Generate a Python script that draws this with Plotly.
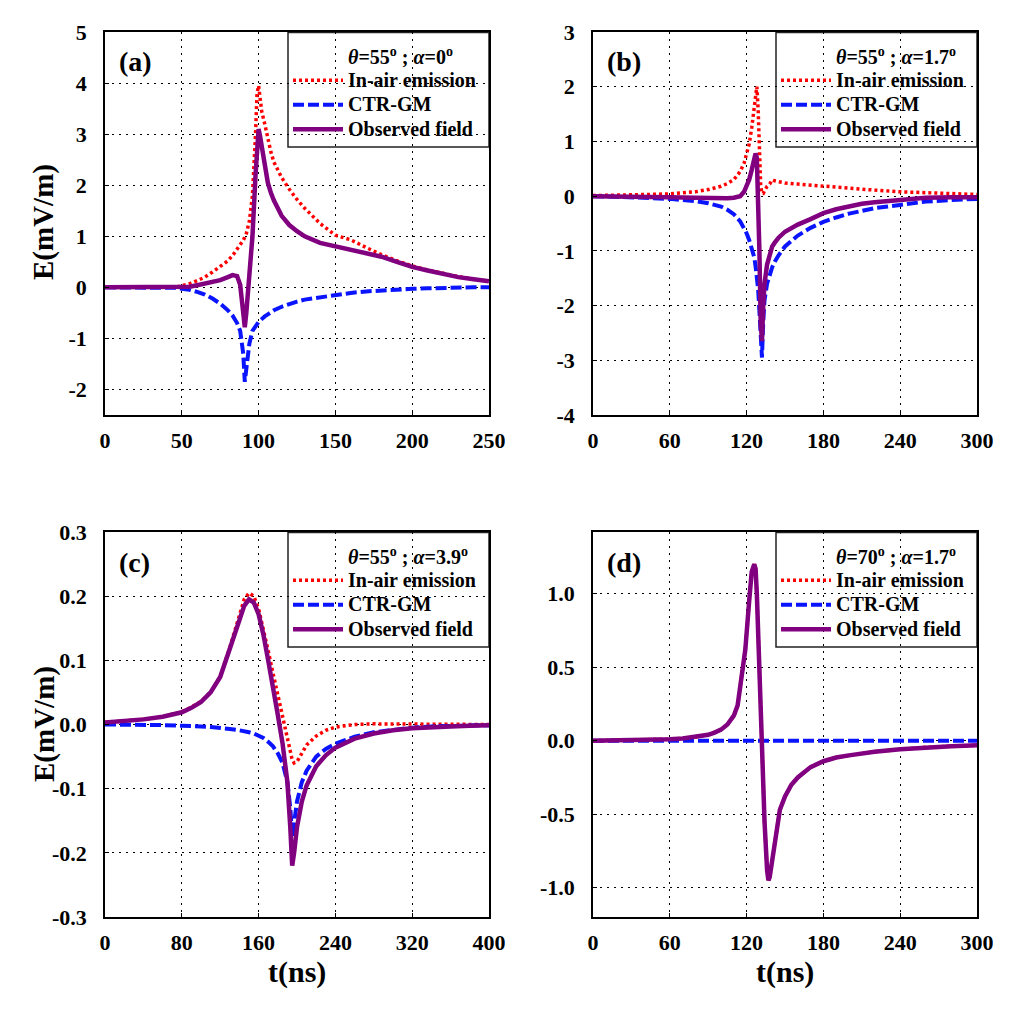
import plotly.graph_objects as go

# ---------------- data ----------------
# Panel (a)
t_a = [0, 20, 40, 45, 50, 55, 60, 65, 70, 75, 80, 83, 86, 88, 90, 91, 92, 94, 96, 98, 99, 100,
       101, 102, 104, 106, 108, 110, 115, 120, 125, 130, 140, 150, 160, 170, 180, 190, 200,
       210, 220, 230, 240, 250]
air_a = [0, 0, 0, 0.005, 0.03, 0.07, 0.13, 0.2, 0.3, 0.4, 0.52, 0.62, 0.74, 0.82, 0.92, 0.98,
         1.05, 1.3, 1.8, 3.0, 3.8, 3.95, 3.7, 3.45, 3.2, 2.9, 2.65, 2.45, 2.15, 1.92, 1.72,
         1.55, 1.25, 1.02, 0.93, 0.78, 0.64, 0.52, 0.42, 0.34, 0.27, 0.21, 0.16, 0.12]
ctr_a = [0, 0, -0.005, -0.01, -0.03, -0.05, -0.09, -0.14, -0.22, -0.32, -0.45, -0.55, -0.7,
         -0.85, -1.3, -1.85, -1.6, -1.1, -0.85, -0.75, -0.71, -0.68, -0.65, -0.62, -0.57,
         -0.53, -0.49, -0.45, -0.38, -0.32, -0.28, -0.24, -0.19, -0.15, -0.11, -0.08, -0.06,
         -0.04, -0.03, -0.02, -0.01, -0.005, 0, 0]
obs_a = [0, 0, 0, -0.005, -0.01, 0.01, 0.04, 0.07, 0.1, 0.14, 0.2, 0.24, 0.22, 0.05, -0.5,
         -0.78, -0.5, 0.2, 1.0, 2.2, 2.9, 3.1, 2.95, 2.75, 2.35, 2.05, 1.85, 1.7, 1.4, 1.22,
         1.1, 1.0, 0.87, 0.8, 0.75, 0.68, 0.6, 0.5, 0.4, 0.33, 0.26, 0.2, 0.16, 0.12]

# Panel (b)
t_b = [0, 20, 40, 60, 80, 90, 100, 105, 110, 115, 118, 120, 122, 124, 126, 127, 128, 129, 130,
       131, 132, 133, 134, 136, 138, 140, 142, 145, 150, 160, 170, 180, 190, 200, 210, 220,
       240, 260, 280, 300]
air_b = [0.01, 0.015, 0.025, 0.04, 0.08, 0.12, 0.18, 0.23, 0.3, 0.45, 0.6, 0.75, 0.95, 1.25,
         1.7, 1.9, 2.0, 1.6, 0.8, 0.2, 0.05, 0.05, 0.1, 0.18, 0.22, 0.3, 0.28, 0.26, 0.24,
         0.22, 0.2, 0.19, 0.17, 0.15, 0.13, 0.11, 0.08, 0.06, 0.04, 0.03]
ctr_b = [0, -0.01, -0.03, -0.05, -0.09, -0.13, -0.19, -0.25, -0.33, -0.46, -0.58, -0.68, -0.8,
         -0.95, -1.12, -1.28, -1.45, -1.7, -2.1, -2.7, -2.95, -2.3, -1.9, -1.6, -1.42, -1.3,
         -1.2, -1.08, -0.92, -0.72, -0.58, -0.47, -0.39, -0.32, -0.27, -0.22, -0.16, -0.1,
         -0.07, -0.05]
obs_b = [0, 0, -0.01, -0.02, -0.03, -0.04, -0.04, -0.04, -0.03, 0.0, 0.08, 0.18, 0.3, 0.48,
         0.72, 0.78, 0.7, 0.1, -1.0, -2.3, -2.65, -2.0, -1.6, -1.25, -1.05, -0.92, -0.85,
         -0.76, -0.65, -0.52, -0.42, -0.31, -0.24, -0.18, -0.14, -0.11, -0.06, -0.03, -0.02,
         -0.02]

# Panel (c)
t_c = [0, 20, 40, 60, 80, 90, 100, 110, 120, 130, 140, 145, 150, 155, 160, 165, 170, 175, 180,
       185, 190, 193, 195, 197, 200, 205, 210, 220, 230, 240, 260, 280, 300, 320, 340, 360,
       380, 400]
air_c = [0.003, 0.005, 0.008, 0.012, 0.02, 0.027, 0.036, 0.05, 0.075, 0.12, 0.17, 0.195,
         0.205, 0.2, 0.18, 0.15, 0.115, 0.08, 0.045, 0.01, -0.025, -0.045, -0.055, -0.06,
         -0.058, -0.045, -0.032, -0.018, -0.009, -0.004, 0.0, 0.001, 0.001, 0.0, 0.0, 0.0,
         0.0, 0.0]
ctr_c = [0, 0, -0.001, -0.001, -0.002, -0.002, -0.003, -0.004, -0.005, -0.007, -0.009, -0.01,
         -0.012, -0.014, -0.017, -0.021, -0.027, -0.034, -0.045, -0.06, -0.09, -0.13, -0.175,
         -0.15, -0.12, -0.09, -0.072, -0.05, -0.038, -0.03, -0.019, -0.012, -0.008, -0.005,
         -0.003, -0.002, -0.001, -0.001]
obs_c = [0.003, 0.005, 0.008, 0.012, 0.019, 0.026, 0.035, 0.05, 0.074, 0.118, 0.165, 0.185,
         0.195, 0.19, 0.172, 0.14, 0.1, 0.06, 0.015, -0.03, -0.09, -0.16, -0.22, -0.2, -0.16,
         -0.12, -0.095, -0.065, -0.048, -0.036, -0.022, -0.014, -0.009, -0.006, -0.004,
         -0.003, -0.002, -0.001]

# Panel (d)
t_d = [0, 20, 40, 60, 70, 80, 90, 95, 100, 105, 110, 113, 116, 119, 122, 124, 126, 127, 128,
       130, 132, 134, 136, 137, 138, 140, 143, 146, 150, 155, 160, 170, 180, 190, 200, 220,
       240, 260, 280, 300]
obs_d = [0.0, 0.002, 0.005, 0.01, 0.015, 0.024, 0.04, 0.055, 0.075, 0.11, 0.17, 0.24, 0.42,
         0.62, 0.95, 1.15, 1.2, 1.17, 1.0, 0.45, -0.1, -0.55, -0.88, -0.95, -0.93, -0.82,
         -0.62, -0.47, -0.38, -0.3, -0.25, -0.18, -0.14, -0.115, -0.1, -0.075, -0.058, -0.045,
         -0.038, -0.032]
air_d = list(obs_d)
ctr_d = [0.0] * len(t_d)

# axis ticks
xt_a = [0, 50, 100, 150, 200, 250]
yt_a = [5, 4, 3, 2, 1, 0, -1, -2]
xt_b = [0, 60, 120, 180, 240, 300]
yt_b = [3, 2, 1, 0, -1, -2, -3, -4]
xt_c = [0, 80, 160, 240, 320, 400]
yt_c = [0.3, 0.2, 0.1, 0.0, -0.1, -0.2, -0.3]
xt_d = [0, 60, 120, 180, 240, 300]
yt_d = [1.0, 0.5, 0.0, -0.5, -1.0]

series_names = ["In-air emission", "CTR-GM", "Observed field"]
panel_labels = ["(a)", "(b)", "(c)", "(d)"]
legend_titles = [
    "<i>θ</i>=55<sup>o</sup> ; <i>α</i>=0<sup>o</sup>",
    "<i>θ</i>=55<sup>o</sup> ; <i>α</i>=1.7<sup>o</sup>",
    "<i>θ</i>=55<sup>o</sup> ; <i>α</i>=3.9<sup>o</sup>",
    "<i>θ</i>=70<sup>o</sup> ; <i>α</i>=1.7<sup>o</sup>",
]

# ---------------- figure ----------------
W = H = 1009
FONT = "Liberation Serif"


def px(x):
    return x / W


def py(y):
    return 1 - y / H


def fmt_tick(v, dec):
    return f"{v:.{dec}f}"


panels = [
    (t_a, air_a, ctr_a, obs_a, xt_a, yt_a, [0, 250], [-2.5, 5], 0, (105, 489, 32, 415)),
    (t_b, air_b, ctr_b, obs_b, xt_b, yt_b, [0, 300], [-4, 3], 0, (593, 977, 32, 415)),
    (t_c, air_c, ctr_c, obs_c, xt_c, yt_c, [0, 400], [-0.3, 0.3], 1, (105, 489, 532, 917)),
    (t_d, air_d, ctr_d, obs_d, xt_d, yt_d, [0, 300], [-1.2, 1.42], 1, (593, 977, 532, 917)),
]

colors = ["#ff0000", "#0a14ff", "#800080"]
dashes = ["3px,3px", "11px,4px", "solid"]
widths = [3.5, 4, 4.5]

fig = go.Figure()
layout = dict(
    width=W, height=H,
    margin=dict(l=0, r=0, t=0, b=0, autoexpand=False),
    paper_bgcolor="white", plot_bgcolor="white",
    font=dict(family=FONT, size=20, color="black"),
    annotations=[], shapes=[],
)

for i, (t, air, ctr, obs, xt, yt, xr, yr, dec, box) in enumerate(panels):
    n = "" if i == 0 else str(i + 1)
    x0, x1, y0, y1 = box
    leg = "legend" + n
    for k, ys in enumerate([air, ctr, obs]):
        fig.add_trace(go.Scatter(
            x=t, y=ys, mode="lines",
            name='<span style="font-size:20px"><b>' + series_names[k] + "</b></span>",
            line=dict(color=colors[k], width=widths[k], dash=dashes[k]),
            xaxis="x" + n, yaxis="y" + n, legend=leg, showlegend=True,
        ))
    common = dict(
        showline=True, linecolor="black", linewidth=1.5, mirror=True,
        showgrid=True, gridcolor="black", gridwidth=1, griddash="2px,5px",
        zeroline=False, ticks="inside", ticklen=4, tickcolor="black",
        tickfont=dict(family=FONT, size=22, color="black", weight="bold"),
    )
    layout["xaxis" + n] = dict(
        common, domain=[px(x0), px(x1)], range=xr, anchor="y" + n,
        tickmode="array", tickvals=xt, ticktext=[str(v) for v in xt],
        ticklabelstandoff=5,
    )
    layout["yaxis" + n] = dict(
        common, domain=[py(y1), py(y0)], range=yr, anchor="x" + n,
        tickmode="array", tickvals=yt, ticktext=[fmt_tick(v, dec) for v in yt],
        ticklabelstandoff=12,
    )
    # legend frame
    bx0, by0 = x1 - 201, y0 + 0.5
    bx1, by1 = x1, y0 + 115
    layout["shapes"].append(dict(
        type="rect", xref="paper", yref="paper",
        x0=px(bx0), x1=px(bx1), y0=py(by1), y1=py(by0),
        line=dict(color="#222", width=1.5), fillcolor="white", layer="between",
    ))
    layout["annotations"].append(dict(
        text="<b>" + legend_titles[i] + "</b>", x=px(bx0 + 58), y=py(y0 + 24),
        xref="paper", yref="paper", xanchor="left", yanchor="middle",
        showarrow=False, font=dict(family=FONT, size=20, color="black"),
    ))
    layout[leg] = dict(
        x=px(bx0), y=py(y0 + 31), xanchor="left", yanchor="top",
        xref="paper", yref="paper",
        bgcolor="rgba(0,0,0,0)", borderwidth=0,
        font=dict(family=FONT, size=16.5, color="black", weight="bold"),
        itemwidth=50, tracegroupgap=0,
    )
    layout["annotations"].append(dict(
        text="<b>" + panel_labels[i] + "</b>", x=px(x0 + 12), y=py(y0 + 30),
        xref="paper", yref="paper", xanchor="left", yanchor="middle",
        showarrow=False, font=dict(family=FONT, size=28, color="black"),
    ))

# axis titles
for yc in (222, 724):
    layout["annotations"].append(dict(
        text="<b>E(mV/m)</b>", x=px(44), y=py(yc), xref="paper", yref="paper",
        xanchor="center", yanchor="middle", textangle=-90, showarrow=False,
        font=dict(family=FONT, size=29, color="black"),
    ))
for xc in (297, 785):
    layout["annotations"].append(dict(
        text="<b>t(ns)</b>", x=px(xc), y=py(972), xref="paper", yref="paper",
        xanchor="center", yanchor="middle", showarrow=False,
        font=dict(family=FONT, size=30, color="black"),
    ))

fig.update_layout(**layout)
fig.write_html("out.html")
